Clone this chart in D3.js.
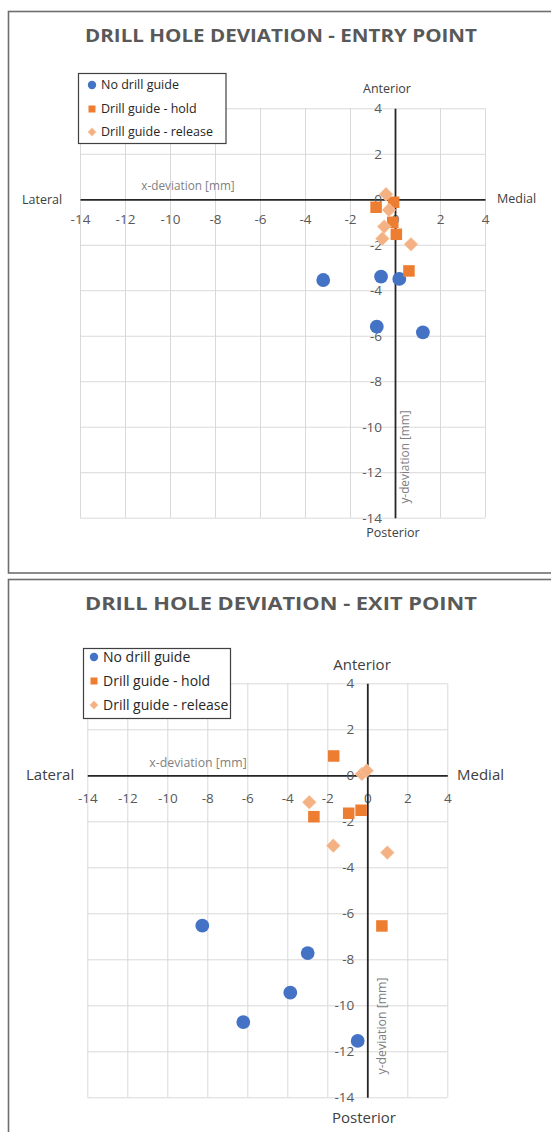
<html>
<head>
<meta charset="utf-8">
<title>Drill hole deviation</title>
<script src="https://cdn.jsdelivr.net/npm/d3@7/dist/d3.min.js"></script>
<style>
    body { margin: 0; background: #fff; }
    text { font-family: "Open Sans", sans-serif; }
</style>
</head>
<body>
<script>
    // tick values shared by both charts
    var xTickValues = [-14, -12, -10, -8, -6, -4, -2, 0, 2, 4];
    var yTickValues = [-14, -12, -10, -8, -6, -4, -2, 0, 2, 4];

    var seriesNames = ["No drill guide", "Drill guide - hold", "Drill guide - release"];
    var seriesColors = ["#4472C4", "#ED7D31", "#F4B183"];
    var seriesShapes = ["circle", "square", "diamond"];

    // entry point [x, y] in mm
    var entryNoGuide = [[-3.19, -3.55], [-0.62, -3.40], [0.19, -3.50], [-0.81, -5.60], [1.24, -5.85]];
    var entryHold = [[-0.84, -0.35], [-0.06, -0.13], [-0.10, -1.01], [0.06, -1.54], [0.62, -3.15]];
    var entryRelease = [[-0.40, 0.22], [-0.27, -0.47], [-0.48, -1.20], [-0.56, -1.73], [0.71, -1.98]];

    // exit point [x, y] in mm
    var exitNoGuide = [[-8.25, -6.54], [-2.98, -7.73], [-3.85, -9.45], [-6.20, -10.73], [-0.48, -11.55]];
    var exitHold = [[0.73, -6.55], [-1.68, 0.84], [-2.67, -1.80], [-0.93, -1.65], [-0.31, -1.52]];
    var exitRelease = [[-0.27, 0.06], [-0.03, 0.20], [-2.90, -1.17], [-1.70, -3.06], [1.00, -3.36]];

    var width = 551;
    var height = 1132;

    var svg = d3.select("body")
        .append("svg")
        .attr("width", width)
        .attr("height", height);

    function marker(g, shape, color, cx, cy, s)
    {
        if (shape == "circle") {
            g.append("circle").attr("cx", cx).attr("cy", cy).attr("r", s * 0.6)
                .attr("fill", color);
        } else if (shape == "square") {
            g.append("rect").attr("x", cx - s / 2).attr("y", cy - s / 2)
                .attr("width", s).attr("height", s).attr("fill", color);
        } else {
            var d = s * 0.6;
            g.append("path")
                .attr("d", "M" + cx + "," + (cy - d) + "L" + (cx + d) + "," + cy +
                    "L" + cx + "," + (cy + d) + "L" + (cx - d) + "," + cy + "Z")
                .attr("fill", color)
                .attr("stroke", "#f8cba8").attr("stroke-width", 0.6);
        }
    }

    // plain hyphen like the original, not the unicode minus
    var fmt = function(d){ return String(d); };

    function drawChart(c, series)
    {
        var g = svg.append("g");

        g.append("rect")
            .attr("x", 8.5).attr("y", c.frameY)
            .attr("width", 560).attr("height", c.frameH)
            .attr("fill", "none").attr("stroke", "#6e6e6e").attr("stroke-width", 1.6);

        g.append("text")
            .attr("x", 281).attr("y", c.titleY)
            .attr("text-anchor", "middle")
            .attr("font-size", "18.5px").attr("font-weight", "bold")
            .attr("fill", "#595959")
            .attr("textLength", 392).attr("lengthAdjust", "spacingAndGlyphs")
            .text(c.title);

        var x = d3.scaleLinear().domain([-14, 4]).range(c.xRange);
        var y = d3.scaleLinear().domain([-14, 4]).range(c.yRange);

        // gridlines
        g.append("g")
            .attr("transform", "translate(0," + c.yRange[0] + ")")
            .call(d3.axisBottom(x).tickValues(xTickValues).tickFormat("")
                .tickSize(-(c.yRange[0] - c.yRange[1])).tickSizeOuter(0))
            .call(function(a){ a.select(".domain").remove(); })
            .selectAll("line").attr("stroke", "#d9d9d9");
        g.append("g")
            .attr("transform", "translate(" + c.xRange[0] + ",0)")
            .call(d3.axisLeft(y).tickValues(yTickValues).tickFormat("")
                .tickSize(-(c.xRange[1] - c.xRange[0])).tickSizeOuter(0))
            .call(function(a){ a.select(".domain").remove(); })
            .selectAll("line").attr("stroke", "#d9d9d9");

        // axes through the origin
        var xAxis = g.append("g")
            .attr("transform", "translate(0," + y(0) + ")")
            .call(d3.axisBottom(x).tickValues(xTickValues).tickFormat(fmt).tickSize(0)
                .tickPadding(c.xLabelPad));
        var yAxis = g.append("g")
            .attr("transform", "translate(" + x(0) + ",0)")
            .call(d3.axisLeft(y).tickValues(yTickValues).tickFormat(fmt).tickSize(0)
                .tickPadding(13));
        [xAxis, yAxis].forEach(function(a){
            a.select(".domain").attr("stroke", "#262626").attr("stroke-width", 1.8);
            a.selectAll("text").attr("font-family", "Open Sans, sans-serif")
                .attr("font-size", "13.5px").attr("fill", "#595959");
        });

        // points
        series.forEach(function(pts, i){
            var sg = g.append("g");
            pts.forEach(function(p){
                marker(sg, seriesShapes[i], seriesColors[i], x(p[0]), y(p[1]), 11.5);
            });
        });

        // direction labels
        var lf = c.labelSize + "px";
        g.append("text").attr("x", c.anterior[0]).attr("y", c.anterior[1]).attr("dy", "0.35em")
            .attr("text-anchor", "middle").attr("font-size", lf).attr("fill", "#404040").text("Anterior");
        g.append("text").attr("x", c.posterior[0]).attr("y", c.posterior[1]).attr("dy", "0.35em")
            .attr("text-anchor", "middle").attr("font-size", lf).attr("fill", "#404040").text("Posterior");
        g.append("text").attr("x", c.lateral[0]).attr("y", c.lateral[1]).attr("dy", "0.35em")
            .attr("font-size", lf).attr("fill", "#404040").text("Lateral");
        g.append("text").attr("x", c.medial[0]).attr("y", c.medial[1]).attr("dy", "0.35em")
            .attr("font-size", lf).attr("fill", "#404040").text("Medial");

        g.append("text").attr("x", c.xTitle[0]).attr("y", c.xTitle[1]).attr("dy", "0.35em")
            .attr("text-anchor", "middle").attr("font-size", c.axisTitleSize + "px")
            .attr("fill", "#7f7f7f").text("x-deviation [mm]");
        g.append("text")
            .attr("transform", "translate(" + c.yTitle[0] + "," + c.yTitle[1] + ") rotate(-90)")
            .attr("dy", "0.35em")
            .attr("text-anchor", "middle").attr("font-size", c.axisTitleSize + "px")
            .attr("fill", "#7f7f7f").text("y-deviation [mm]");

        // legend
        var lg = g.append("g");
        lg.append("rect")
            .attr("x", c.legend.x).attr("y", c.legend.y)
            .attr("width", c.legend.w).attr("height", c.legend.h)
            .attr("fill", "#fff").attr("stroke", "#404040").attr("stroke-width", 1.2);
        seriesNames.forEach(function(name, i){
            var ly = c.legend.rows[i];
            marker(lg, seriesShapes[i], seriesColors[i], c.legend.mx, ly, 7);
            lg.append("text").attr("x", c.legend.tx).attr("y", ly).attr("dy", "0.35em")
                .attr("font-size", c.legend.size + "px").attr("fill", "#262626").text(name);
        });
    }

    drawChart({
        title: "DRILL HOLE DEVIATION - ENTRY POINT",
        frameY: 11.5, frameH: 561.5, titleY: 42,
        xRange: [80, 485], yRange: [517.7, 108.3], xLabelPad: 15,
        labelSize: 12.5, axisTitleSize: 11.8,
        anterior: [387, 89], posterior: [393, 533], lateral: [22, 200], medial: [497, 199],
        xTitle: [188, 186], yTitle: [405, 457],
        legend: {x: 78.5, y: 73.5, w: 147.5, h: 70, rows: [85, 109, 132], mx: 92, tx: 101, size: 12.5}
    }, [entryNoGuide, entryHold, entryRelease]);

    drawChart({
        title: "DRILL HOLE DEVIATION - EXIT POINT",
        frameY: 579.5, frameH: 600, titleY: 610,
        xRange: [87.3, 447.3], yRange: [1097.3, 683.3], xLabelPad: 18,
        labelSize: 15, axisTitleSize: 12.3,
        anterior: [362, 665], posterior: [364, 1118], lateral: [26, 775], medial: [457, 775],
        xTitle: [198, 763], yTitle: [382, 1026],
        legend: {x: 83.5, y: 648.5, w: 147, h: 70, rows: [657, 681, 705], mx: 94, tx: 103, size: 14}
    }, [exitNoGuide, exitHold, exitRelease]);
</script>
</body>
</html>
